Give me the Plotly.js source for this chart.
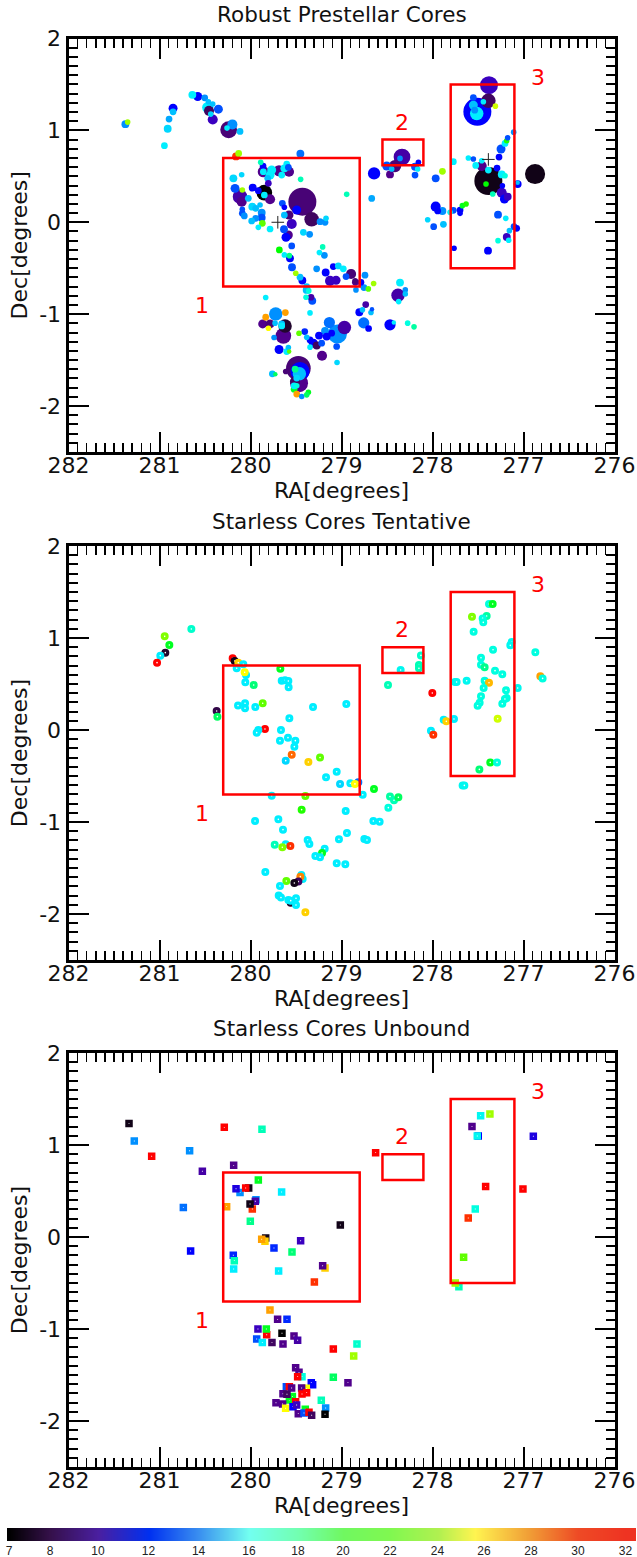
<!DOCTYPE html>
<html><head><meta charset="utf-8">
<script src="https://cdn.plot.ly/plotly-3.0.1.min.js"></script>
<style>html,body{margin:0;padding:0;background:#fff}</style></head>
<body><div id="chart" style="width:637px;height:1557px"></div>
<script>
// ---- Robust prestellar cores: RA, Dec, temperature (K), relative mass
const p1Ra=[281.375,281.35,280.851,280.851,280.895,280.910,280.946,280.639,280.580,280.503,
280.463,280.415,280.470,280.456,280.437,280.353,280.415,280.240,280.258,280.199,
280.115,280.130,280.159,279.452,
279.888,279.862,279.859,279.859,279.687,279.577,279.767,279.785,279.811,279.804,
279.602,279.628,279.584,279.657,279.449,280.188,280.097,280.170,279.976,280.090,
279.848,279.848,279.914,279.785,280.115,280.097,280.024,280.090,280.090,280.068,
279.980,279.943,279.895,279.877,279.943,279.987,279.877,279.914,279.870,279.785,
279.650,279.628,279.577,279.628,279.492,279.547,279.632,279.584,279.610,279.430,
279.328,279.236,279.181,279.170,279.419,279.350,279.547,279.683,279.628,279.573,
279.566,279.544,279.503,279.456,279.430,279.383,279.207,279.243,279.188,279.273,
279.174,279.090,279.035,278.980,279.126,279.060,278.895,278.950,278.850,
279.383,279.360,279.390,279.335,279.321,279.833,279.346,278.742,278.753,278.705,
278.647,278.841,278.786,278.848,278.734,278.357,278.379,278.299,278.299,278.372,
278.804,278.770,278.676,278.665,278.756,278.702,278.467,278.425,278.273,278.203,
279.049,279.214,
279.723,279.833,279.617,279.866,279.785,279.657,279.730,279.803,279.639,279.620,
279.657,279.741,279.686,279.584,279.602,279.575,279.467,279.404,279.382,279.346,
279.346,279.309,279.272,279.218,279.133,279.181,279.247,279.163,278.968,279.045,
279.053,279.108,
279.474,279.456,279.463,279.613,279.466,279.511,279.510,279.492,279.521,279.492,
279.521,279.492,279.437,279.364,279.382,279.760,279.727,
277.379,277.386,277.309,277.507,277.551,277.551,277.441,277.514,277.536,
278.335,278.357,278.412,278.467,278.503,278.448,278.192,278.155,278.163,278.192,
278.642,278.668,278.943,277.891,277.965,277.771,277.606,277.551,277.525,277.459,
277.459,277.386,277.386,277.412,276.873,277.064,277.064,277.269,277.247,277.203,
277.185,277.174,277.108,277.291,277.239,277.203,277.232,277.239,277.174,277.210,
277.338,277.965,277.943,277.891,277.807,277.771,277.697,277.697,277.672,277.631,
278.053,277.987,277.880,277.280,277.195,277.104,277.075,277.155,277.184,277.280,
277.163,277.763,277.390];
const p1Dec=[1.068,1.09,1.242,1.202,1.123,1.018,0.833,1.387,1.369,1.355,
1.311,1.286,1.249,1.213,1.177,1.231,1.119,1.007,1.025,1.065,
0.989,0.749,0.717,0.746,
0.652,0.612,0.550,0.550,0.561,0.550,0.569,0.514,0.478,0.424,
0.634,0.587,0.598,0.514,0.467,0.478,0.518,0.369,0.377,0.351,
0.322,0.297,0.344,0.250,0.279,0.224,0.261,0.141,0.098,0.069,
0.170,0.152,0.188,0.105,0.043,0.014,0.050,-0.055,-0.011,-0.073,
0.206,0.163,0.079,0.079,0.134,-0.018,-0.076,-0.138,-0.163,0.224,
0.032,0.007,0.000,0.043,-0.109,-0.131,-0.257,-0.301,-0.355,-0.363,
-0.392,-0.489,-0.555,-0.598,-0.634,-0.700,-0.268,-0.330,-0.359,-0.507,
-0.547,-0.482,-0.475,-0.507,-0.638,-0.631,-0.562,-0.591,-0.638,
-0.736,-0.747,-0.816,-0.816,-0.855,-0.819,-0.986,-0.576,-0.710,-0.725,
-0.667,-0.736,-0.653,-0.653,-0.895,-0.656,-0.794,-0.736,-0.780,-0.863,
-0.979,-0.953,-0.982,-0.946,-1.095,-1.156,-1.116,-1.090,-1.098,-1.138,
-1.526,-1.453,
-0.997,-1.033,-0.983,-1.106,-1.106,-1.106,-1.098,-1.153,-1.236,-1.128,
-1.128,-1.254,-1.385,-1.363,-1.407,-1.407,-1.207,-1.189,-1.251,-1.280,
-1.359,-1.316,-1.341,-1.316,-1.091,-1.182,-1.233,-1.244,-1.146,-1.215,
-1.352,-1.207,
-1.588,-1.624,-1.649,-1.624,-1.751,-1.733,-1.599,-1.696,-1.816,-1.870,
-1.780,-1.780,-1.896,-1.849,-1.878,-1.649,-1.653,
1.492,1.322,1.264,1.202,1.358,1.275,1.311,1.184,1.220,
0.710,0.695,0.612,0.521,0.612,0.579,0.604,0.652,0.579,0.514,
0.532,0.260,0.304,0.554,0.478,0.659,0.699,0.688,0.619,0.670,
0.612,0.568,0.449,0.416,0.525,0.416,0.430,0.710,0.797,0.858,
0.887,0.920,0.981,0.590,0.521,0.507,0.398,0.322,0.278,0.253,
0.307,0.170,0.123,0.123,0.108,0.130,0.133,0.097,0.181,0.199,
0.028,-0.048,-0.022,0.083,0.043,-0.048,-0.066,-0.091,-0.160,-0.200,
-0.196,-0.283,-0.309];
const p1Temp=[14,24,12,15,14.5,15.5,16,16,12,14,
15,15,16,9,15.5,13,11,9.5,16,14,
15,24,30,13.5,
18,12,10,16,10,10,16,16,15,11,
16,16,13,16,18,15.5,15.5,13,12,24,
7,16,12,10,10.5,10,15,13,13,14,
15.5,15,15,14,14,15,13,16,23,16,
13,12,9.5,15,12,11,13,10,12,9.5,
9,14,14,15.5,15.5,14,13,21.5,16,19,
12,13,24,15,12,15,18,16,14,14,
12,12,15.5,16,11,11,9.5,13,9.5,
15,17,17,10.5,13,16,16,14,14,23,
24,14,12,10,10.5,16,10.5,14,15,16,
12,15,15,13,13.5,12,12,16,17,18.5,
15.5,10,
14,28,28,10,9.5,15,15,26,10,8,
16,14,12,15,16,23,23,12.5,15,12,
16,12,9,13,13.5,14,12,12,10.5,14,
13,12,
9.5,12,15,9.5,10,9,19,15.5,21,28,
16,17,14,21,20,15,20,
11,9,25,12,13,15,16,16,14,
10.5,14,9.5,10,13,15,13,12,16,13,
12,14.5,18,24,13,16,16,13,16,16,
10,16,7.5,21.5,7.5,12,15,12,13,16,
22,13,14,12,16,17,12,11,11,12,
18,12,12,14,16.5,13,12,12,21,22,
15.5,13,15,13,16,13,12,15,11,17,
16,12,12];
const p1Mass=[7,5,8,6,6,7,6,7,8,6,
5,5,10,9,5,8,9,15,5,9,
6,6,7,7,
5,6,10,6,10,9,8,8,6,6,
6,7,6,6,5,7,5,8,7,5,
14,6,6,9,13,9,6,5,6,6,
7,6,5,7,6,6,7,5,6,6,
6,5,8,6,8,9,7,8,8,25,
13,6,6,5,6,6,6,6,5,5,
7,7,5,6,7,6,5,5,6,6,
7,6,6,6,9,8,9,6,5,
7,5,5,6,7,5,5,6,6,5,
5,5,6,6,6,7,12,5,5,5,
7,5,5,4,10,6,10,4,5,5,
5,9,
12,6,6,8,8,6,5,5,14,12,
6,5,8,5,6,4,5,6,5,6,
5,8,7,6,10,7,7,7,12,17,
6,6,
22,17,12,5,16,9,6,6,6,6,
6,5,5,5,5,6,4,
16,13,5,25,6,8,5,12,6,
15,5,11,7,8,5,7,5,5,6,
11,6,5,6,7,6,5,5,6,5,
9,6,25,5,18,7,4,6,8,6,
5,5,5,6,7,5,5,9,7,8,
5,9,6,7,5,6,6,5,5,5,
5,6,6,7,5,6,6,5,7,5,
5,5,7];
const crossRa=[279.7,277.386];
const crossDec=[0.0,0.684];

// ---- Starless cores, tentative
const p2Ra=[280.943,280.892,280.650,280.936,280.991,281.027,280.196,280.174,280.134,280.079,
280.152,280.049,280.064,280.057,279.965,279.672,279.657,279.621,279.584,279.581,
280.137,280.060,280.060,279.947,279.866,280.372,280.364,279.313,278.947,279.573,
279.841,279.914,279.932,279.665,279.676,279.588,279.507,279.518,279.547,279.613,
279.364,279.236,279.170,279.053,279.016,278.903,278.815,278.852,278.767,278.643,
279.767,279.397,278.467,278.423,278.375,279.438,278.954,278.485,279.950,279.694,
279.643,278.650,278.581,278.940,279.028,278.749,278.720,279.734,279.613,279.562,
279.650,279.372,279.353,279.185,279.214,279.287,279.236,279.053,278.958,279.837,
279.606,279.676,279.441,279.427,279.452,279.474,279.518,279.690,279.665,279.558,
279.584,279.500,279.500,279.558,279.397,
278.350,278.127,278.149,278.149,278.489,278.002,278.017,277.991,277.877,277.848,
277.764,277.753,277.735,277.625,277.669,277.650,277.485,277.365,277.291,277.566,
277.379,277.339,277.405,277.449,277.442,277.548,277.130,277.145,277.335,277.467,
277.467,277.427,277.313,277.233,277.427,277.379,277.438,277.192,277.064,277.185,
277.204,277.233,277.467,277.482,277.504,277.284,276.870,276.815,276.790];
const p2Dec=[1.018,0.924,1.098,0.841,0.808,0.732,0.779,0.750,0.732,0.714,
0.671,0.598,0.627,0.518,0.489,0.667,0.536,0.540,0.533,0.464,
0.265,0.290,0.236,0.250,0.290,0.207,0.145,0.250,0.283,0.127,
0.011,0.000,-0.029,0.000,-0.116,-0.083,-0.116,-0.181,-0.268,-0.333,
-0.348,-0.300,-0.514,-0.453,-0.586,-0.579,-0.569,-0.586,-0.703,-0.641,
-0.714,-0.717,-0.724,-0.764,-0.732,-0.866,-0.880,-0.844,-0.989,-0.971,
-1.083,-0.989,-0.996,-1.119,-1.188,-1.184,-1.195,-1.246,-1.242,-1.261,
-1.275,-1.195,-1.239,-1.290,-1.337,-1.369,-1.384,-1.449,-1.460,-1.543,
-1.641,-1.695,-1.576,-1.619,-1.594,-1.648,-1.663,-1.800,-1.822,-1.877,
-1.848,-1.829,-1.902,-1.855,-1.982,
0.652,0.811,0.706,0.670,0.489,0.402,-0.008,-0.051,0.112,0.094,
0.119,0.521,0.521,0.536,-0.602,-0.602,-0.428,-0.352,-0.352,1.231,
1.369,1.369,1.239,1.213,1.170,1.068,0.956,0.920,0.873,0.786,
0.710,0.681,0.645,0.605,0.536,0.514,0.456,0.431,0.456,0.347,
0.337,0.286,0.366,0.297,0.264,0.123,0.844,0.583,0.561];
const p2Temp=[23.5,21,17.5,8,16,31,31,7.5,27,16,
16,16,26,16,19.5,21,16,16,16,16,
16,16,16,16,23,8.5,20,16,16,16,
31,16,16,16,16,16,16,16,29,15.5,
27,23,16,16,15.5,16,13.5,26,16,21,
16,23,18.5,18,20,22,16,17,16,16,
16,16,16,16,16,16,16,18,16,30,
23.5,16,16,16,21,16,16,16,16,16,
23,16,16,16,28.5,9,7.5,16,16,8,
16,16,16,16,27,
16.5,17.5,18,18,18,31,16,30,16,27,
16,16.5,16.5,16.5,16.5,16.5,19.5,21,17,23.5,
17,21,18.5,17,17,17,16.5,16.5,17,17,
17,19,17,17,17,27.5,17,17,16.5,17,
17,17,17,17,17,25,17,28,17];

// ---- Starless cores, unbound
const p3Ra=[281.335,281.277,281.086,280.669,280.288,279.874,280.185,280.529,280.738,280.658,
279.914,279.658,280.115,280.159,280.020,280.053,280.262,279.940,279.947,279.980,
280.005,280.002,279.013,279.833,279.841,279.877,279.449,279.742,279.544,280.189,
280.178,280.185,279.691,279.181,279.207,279.298,
279.786,279.702,279.599,279.918,279.822,279.826,279.654,279.522,279.482,279.932,
279.870,279.764,279.643,279.090,278.830,278.866,279.090,278.929,279.504,279.467,
279.434,279.482,279.317,279.332,279.606,279.573,279.548,279.387,279.438,279.383,
279.434,279.573,279.540,279.643,279.599,279.504,279.222,279.720,279.647,279.614,
279.533,279.493,279.398,279.475,279.412,279.357,279.328,279.174,279.181,
278.625,277.471,277.369,277.566,277.497,277.508,276.892,277.416,277.006,277.530,
277.607,277.658,277.71,277.75];
const p3Dec=[1.235,1.043,0.877,0.938,1.192,1.170,0.779,0.714,0.322,-0.152,
0.619,0.489,0.485,0.525,0.532,0.532,0.330,0.406,0.388,0.304,
0.359,0.170,0.130,-0.011,-0.047,-0.025,-0.040,-0.120,-0.163,-0.199,
-0.257,-0.348,-0.370,-0.337,-0.312,-0.489,
-0.793,-0.895,-0.895,-1.000,-1.062,-1.000,-1.047,-1.076,-1.123,-1.109,
-1.148,-1.148,-1.163,-1.217,-1.163,-1.293,-1.525,-1.583,-1.420,-1.471,
-1.518,-1.518,-1.605,-1.583,-1.627,-1.627,-1.641,-1.645,-1.641,-1.692,
-1.706,-1.772,-1.735,-1.703,-1.710,-1.790,-1.775,-1.801,-1.815,-1.862,
-1.844,-1.826,-1.873,-1.920,-1.913,-1.906,-1.938,-1.859,-1.927,
0.917,1.319,1.337,1.200,1.098,1.098,1.095,0.548,0.522,0.305,
0.207,-0.221,-0.54,-0.50];
const p3Temp=[7.5,14,31,14,31,18,10,10.5,13.5,12,
21,16,14,11.5,7.5,31,28,14,10.5,30,
7.5,19,7.5,7.5,27,28,11,12.5,19.5,12.5,
18,16,16,27,10,30,
28,10,12.5,11,31,21,7,10,10.5,13,
16,9,10,31,17.5,24,20,10,10,10,
17,31,12,12,13,31,10,26,10,31,
31,21,21,10,9,31,18,10,10,26,
12,11,21,10,13,31,9,14,7,
31,16.5,24,10,12,16.5,11.5,31,31,17,
30,23,18,24];

// ---- Regions
const boxRaHigh=[280.3,278.55,277.8];
const boxRaLow=[278.8,278.1,277.1];
const boxDecLow=[-0.7,0.62,-0.5];
const boxDecHigh=[0.7,0.9,1.5];
const boxNames=["1","2","3"];
const boxNameRa=[280.53,278.33,276.84];
const boxNameDec=[-0.91,1.09,1.58];

// ---- Titles and ticks
const panelTitles=["Robust Prestellar Cores","Starless Cores Tentative","Starless Cores Unbound"];
const raTicks=[282,281,280,279,278,277,276];
const decTicks=[2,1,0,-1,-2];
const decTickText=["2","1","0","-1","-2"];

// ---- Colour key
const barLabels=[7,8,10,12,14,16,18,20,22,24,26,28,30,32];
const barSlots=[9,50,98,148.5,198.6,249,298,343,390,437.5,484,531,578,625.5,642];
const barTemps=[7,8,10,12,14,16,18,20,22,24,26,28,30,32,33];

const W=637,H=1557;
const TMIN=7,TMAX=33;
const toScale=s=>s.map(([t,c])=>[(t-TMIN)/(TMAX-TMIN),c]);
const pointScale=toScale([[7,'#000000'],[8,'#22062e'],[9,'#400560'],[10,'#50008c'],[11,'#3a00c0'],[12,'#0000ff'],
 [13,'#0050ff'],[14,'#0090ff'],[15,'#00c0ff'],[16,'#00eeff'],[17,'#00ffe0'],[18,'#00ffb8'],[20,'#00ff60'],[21.5,'#00ff00'],
 [24,'#a0ff00'],[26,'#ffff00'],[28,'#ffa000'],[30,'#ff3000'],[31,'#ff0000'],[33,'#ff0000']]);
const barScale=toScale([[7,'#000000'],[8,'#35104a'],[10,'#4a1fa0'],[12,'#0030f0'],[14,'#3a90f0'],[16,'#72fff0'],
 [18,'#72ffb0'],[20,'#70f860'],[22,'#80f850'],[24,'#b0f050'],[25.6,'#fff450'],[28,'#f09a35'],[30,'#ee4a25'],[32,'#ee3322'],[33,'#ee3322']]);

const panels=[[38.5,452],[546,960],[1053,1467]];
const left=68.5,right=614.5;

function axis(top,bottom,anchor,isX){
  const base={
    ticks:'inside',mirror:'allticks',showline:true,linecolor:'#000',linewidth:3,
    tickcolor:'#000',tickwidth:2,ticklen:20,showgrid:false,zeroline:false,
    minor:{dtick:0.1,ticks:'inside',ticklen:9,tickwidth:isX?1.5:2,tickcolor:'#000',showgrid:false},
    tickfont:{family:'DejaVu Sans',size:22,color:'#111'},anchor:anchor
  };
  if(isX){
    return Object.assign(base,{domain:[left/W,right/W],range:[282,276],tickmode:'array',tickvals:raTicks,ticktext:raTicks.map(String),ticklabelstandoff:-8,
      title:{text:'RA[degrees]',font:{family:'DejaVu Sans',size:22,color:'#111'},standoff:0}});
  }
  return Object.assign(base,{domain:[(H-bottom)/H,(H-top)/H],range:[-2.5,2],tickmode:'array',tickvals:decTicks,ticktext:decTickText,
    title:{text:'Dec[degrees]',font:{family:'DejaVu Sans',size:22,color:'#111'},standoff:6}});
}

const layout={width:W,height:H,margin:{l:0,r:0,t:0,b:0},paper_bgcolor:'#fff',plot_bgcolor:'#fff',showlegend:false,shapes:[],annotations:[]};
panels.forEach(([top,bottom],i)=>{
  const n=i===0?'':String(i+1);
  layout['xaxis'+n]=axis(top,bottom,'y'+n,true);
  layout['yaxis'+n]=axis(top,bottom,'x'+n,false);
  const xr='x'+n, yr='y'+n;
  boxNames.forEach((name,b)=>{
    layout.shapes.push({type:'rect',xref:xr,yref:yr,x0:boxRaHigh[b],x1:boxRaLow[b],y0:boxDecLow[b],y1:boxDecHigh[b],line:{color:'#ff0000',width:2.5},fillcolor:'rgba(0,0,0,0)',layer:'above'});
    layout.annotations.push({xref:xr,yref:yr,x:boxNameRa[b],y:boxNameDec[b],text:name,showarrow:false,font:{family:'DejaVu Sans',size:22,color:'#ff0000'}});
  });
  layout.annotations.push({xref:'paper',yref:'paper',x:(left+right)/2/W,y:(H-top+24.5)/H,yanchor:'middle',text:panelTitles[i],showarrow:false,font:{family:'DejaVu Sans',size:21.5,color:'#111'}});
});
layout.xaxis4={domain:[7/W,636/W],range:[7,636],anchor:'y4',ticks:'',showline:false,showgrid:false,zeroline:false,tickmode:'array',tickvals:barSlots.slice(0,barLabels.length),ticktext:barLabels.map(String),ticklabelstandoff:1,tickfont:{family:'Liberation Sans',size:12,color:'#222'}};
layout.yaxis4={domain:[(H-1541)/H,(H-1528)/H],range:[0,1],anchor:'x4',visible:false};

// draw big cores first so small ones stay visible
const order=p1Mass.map((m,i)=>i).sort((a,b)=>p1Mass[b]-p1Mass[a]);
const traces=[
 {type:'scatter',mode:'markers',xaxis:'x',yaxis:'y',x:order.map(i=>p1Ra[i]),y:order.map(i=>p1Dec[i]),
  marker:{symbol:'circle',opacity:1,size:order.map(i=>p1Mass[i]*1.12),color:order.map(i=>p1Temp[i]),colorscale:pointScale,cmin:TMIN,cmax:TMAX,line:{width:0}}},
 {type:'scatter',mode:'markers',xaxis:'x',yaxis:'y',x:crossRa,y:crossDec,
  marker:{symbol:'cross-thin',opacity:1,size:9,color:'#222',line:{width:1,color:'#222'}}},
 {type:'scatter',mode:'markers',xaxis:'x2',yaxis:'y2',x:p2Ra,y:p2Dec,
  marker:{symbol:'circle',opacity:1,size:4.8,color:'rgba(255,255,255,1)',line:{width:3.2,color:p2Temp,colorscale:pointScale,cmin:TMIN,cmax:TMAX}}},
 {type:'scatter',mode:'markers',xaxis:'x3',yaxis:'y3',x:p3Ra,y:p3Dec,
  marker:{symbol:'square',opacity:1,size:4.2,color:'rgba(255,255,255,1)',line:{width:3.3,color:p3Temp,colorscale:pointScale,cmin:TMIN,cmax:TMAX}}},
 {type:'heatmap',xaxis:'x4',yaxis:'y4',x:barSlots,y:[0,1],z:[barTemps,barTemps],zsmooth:'best',colorscale:barScale,zmin:TMIN,zmax:TMAX,showscale:false,hoverinfo:'skip'}
];
Plotly.newPlot('chart',traces,layout,{staticPlot:true,displayModeBar:false});
</script></body></html>
